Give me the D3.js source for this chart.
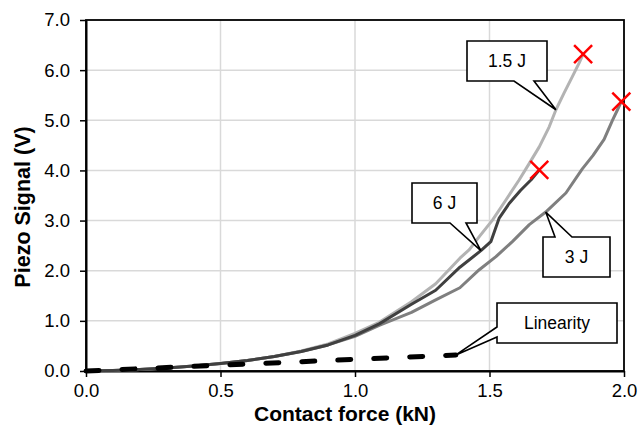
<!DOCTYPE html>
<html>
<head>
<meta charset="utf-8">
<script src="https://cdn.jsdelivr.net/npm/d3@7/dist/d3.min.js"></script>
<style>
  html, body { margin: 0; padding: 0; background: #fff; }
  svg { display: block; }
  text { font-family: "Liberation Sans", Arial, sans-serif; }
</style>
</head>
<body>
<svg id="chart" width="642" height="431"></svg>
<script>
// Piezo signal vs. contact force for three impact energies
const force15 = [0, 0.1, 0.2, 0.3, 0.4, 0.5, 0.6, 0.7, 0.8, 0.9, 1.0, 1.09, 1.21, 1.30, 1.39, 1.425, 1.462, 1.511, 1.561, 1.610, 1.648, 1.685, 1.722, 1.747, 1.777, 1.808, 1.833, 1.848];
const signal15 = [0, 0.01, 0.03, 0.06, 0.10, 0.15, 0.21, 0.29, 0.40, 0.54, 0.75, 0.97, 1.38, 1.74, 2.25, 2.42, 2.68, 3.01, 3.41, 3.81, 4.14, 4.47, 4.87, 5.21, 5.54, 5.87, 6.14, 6.32];

const force3 = [0, 0.1, 0.2, 0.3, 0.4, 0.5, 0.6, 0.7, 0.8, 0.9, 1.0, 1.09, 1.21, 1.30, 1.39, 1.462, 1.524, 1.585, 1.648, 1.709, 1.784, 1.845, 1.885, 1.926, 1.957, 1.975, 1.99];
const signal3 = [0, 0.01, 0.03, 0.06, 0.10, 0.15, 0.21, 0.29, 0.39, 0.52, 0.69, 0.91, 1.17, 1.42, 1.66, 2.02, 2.28, 2.58, 2.92, 3.17, 3.55, 4.03, 4.30, 4.62, 5.00, 5.20, 5.37];

const force6 = [0, 0.1, 0.2, 0.3, 0.4, 0.5, 0.6, 0.7, 0.8, 0.9, 1.0, 1.09, 1.21, 1.30, 1.39, 1.468, 1.505, 1.536, 1.573, 1.615, 1.654, 1.685];
const signal6 = [0, 0.01, 0.03, 0.06, 0.10, 0.15, 0.21, 0.29, 0.39, 0.52, 0.71, 0.94, 1.33, 1.61, 2.07, 2.40, 2.58, 3.05, 3.34, 3.60, 3.81, 4.01];

const forceLin = [0, 1.375];
const signalLin = [0, 0.32];

const xTicks = [0, 0.5, 1.0, 1.5, 2.0];
const yTicks = [0, 1, 2, 3, 4, 5, 6, 7];

const xTitle = "Contact force (kN)";
const yTitle = "Piezo Signal (V)";

const zip = (xs, ys) => xs.map((x, i) => [x, ys[i]]);

const series = [
  { name: "1.5 J", points: zip(force15, signal15), color: "#b3b3b3", failed: true },
  { name: "3 J", points: zip(force3, signal3), color: "#7f7f7f", failed: true },
  { name: "6 J", points: zip(force6, signal6), color: "#404040", failed: true }
];
const linearity = zip(forceLin, signalLin);

const svg = d3.select("#chart");
const plot = { left: 86, right: 624, top: 20, bottom: 371 };

const x = d3.scaleLinear().domain([0, 2]).range([plot.left, plot.right]);
const y = d3.scaleLinear().domain([0, 7]).range([plot.bottom, plot.top]);

// gridlines
const grid = svg.append("g").attr("stroke", "#d9d9d9").attr("stroke-width", 1.5);
grid.selectAll(".gy").data(yTicks.slice(1, -1)).join("line")
  .attr("x1", plot.left).attr("x2", plot.right)
  .attr("y1", d => y(d)).attr("y2", d => y(d));
grid.selectAll(".gx").data(xTicks.slice(1, -1)).join("line")
  .attr("y1", plot.top).attr("y2", plot.bottom)
  .attr("x1", d => x(d)).attr("x2", d => x(d));

// plot frame
svg.append("rect")
  .attr("x", plot.left).attr("y", plot.top)
  .attr("width", plot.right - plot.left).attr("height", plot.bottom - plot.top)
  .attr("fill", "none").attr("stroke", "#000").attr("stroke-width", 1.8);

// axes
const fmt = d3.format(".1f");
const xAxis = svg.append("g").attr("transform", `translate(0,${plot.bottom})`)
  .call(d3.axisBottom(x).tickValues(xTicks).tickFormat(fmt).tickSize(6).tickSizeOuter(0).tickPadding(7));
const yAxis = svg.append("g").attr("transform", `translate(${plot.left},0)`)
  .call(d3.axisLeft(y).tickValues(yTicks).tickFormat(fmt).tickSize(6).tickSizeOuter(0).tickPadding(10));
[xAxis, yAxis].forEach(a => {
  a.select(".domain").attr("stroke", "#000").attr("stroke-width", 2);
  a.selectAll(".tick line").attr("stroke", "#000").attr("stroke-width", 1.5);
  a.selectAll(".tick text").attr("fill", "#000").style("font-size", "18.5px")
    .style("font-family", "'Liberation Sans', Arial, sans-serif");
});

// axis titles
svg.append("text")
  .attr("x", (plot.left + plot.right) / 2 - 10).attr("y", 421)
  .attr("text-anchor", "middle")
  .style("font-size", "21px").style("font-weight", "bold")
  .text(xTitle);
svg.append("text")
  .attr("transform", "translate(23,207) rotate(-90)")
  .attr("text-anchor", "middle").attr("dominant-baseline", "central")
  .style("font-size", "21.5px").style("font-weight", "bold")
  .text(yTitle);

// data lines
const line = d3.line().x(d => x(d[0])).y(d => y(d[1]));
svg.append("g").selectAll("path").data(series).join("path")
  .attr("d", d => line(d.points))
  .attr("fill", "none").attr("stroke", d => d.color)
  .attr("stroke-width", 3).attr("stroke-linejoin", "round");

svg.append("path")
  .attr("d", line(linearity))
  .attr("fill", "none").attr("stroke", "#000").attr("stroke-width", 5)
  .attr("stroke-dasharray", "13,23").attr("stroke-linecap", "round");

// failure markers at the end of each curve
const xMark = svg.append("g").attr("stroke", "#ff0000").attr("stroke-width", 2.5);
series.filter(s => s.failed).forEach(s => {
  const [fx, fy] = s.points[s.points.length - 1];
  const cx = x(fx), cy = y(fy), r = 9;
  xMark.append("path")
    .attr("d", `M${cx - r},${cy - r}L${cx + r},${cy + r}M${cx - r},${cy + r}L${cx + r},${cy - r}`);
});

// callouts: box in pixels, pointer tip anchored to a data point
const callouts = [
  { text: "1.5 J", box: [467, 41, 547, 81], side: "bottom", base: [514, 534], at: [1.747, 5.21] },
  { text: "6 J", box: [412, 183, 477, 223], side: "bottom", base: [450, 466], at: [1.468, 2.40] },
  { text: "3 J", box: [543, 237, 610, 277], side: "top", base: [555, 572], at: [1.709, 3.17] },
  { text: "Linearity", box: [497, 303, 617, 343], side: "left", base: [327, 337], at: [1.375, 0.32] }
];

const cg = svg.append("g");
callouts.forEach(c => {
  const [x0, y0, x1, y1] = c.box;
  const tx = x(c.at[0]), ty = y(c.at[1]);
  let d;
  if (c.side === "bottom") {
    d = `M${x0},${y0}H${x1}V${y1}H${c.base[1]}L${tx},${ty}L${c.base[0]},${y1}H${x0}Z`;
  } else if (c.side === "top") {
    d = `M${x0},${y0}H${c.base[0]}L${tx},${ty}L${c.base[1]},${y0}H${x1}V${y1}H${x0}Z`;
  } else {
    d = `M${x0},${y0}H${x1}V${y1}H${x0}V${c.base[1]}L${tx},${ty}L${x0},${c.base[0]}Z`;
  }
  cg.append("path").attr("d", d)
    .attr("fill", "#fff").attr("stroke", "#000").attr("stroke-width", 1.6)
    .attr("stroke-linejoin", "miter");
  cg.append("text")
    .attr("x", (x0 + x1) / 2).attr("y", (y0 + y1) / 2)
    .attr("text-anchor", "middle").attr("dominant-baseline", "central")
    .style("font-size", "17.5px")
    .text(c.text);
});
</script>
</body>
</html>
